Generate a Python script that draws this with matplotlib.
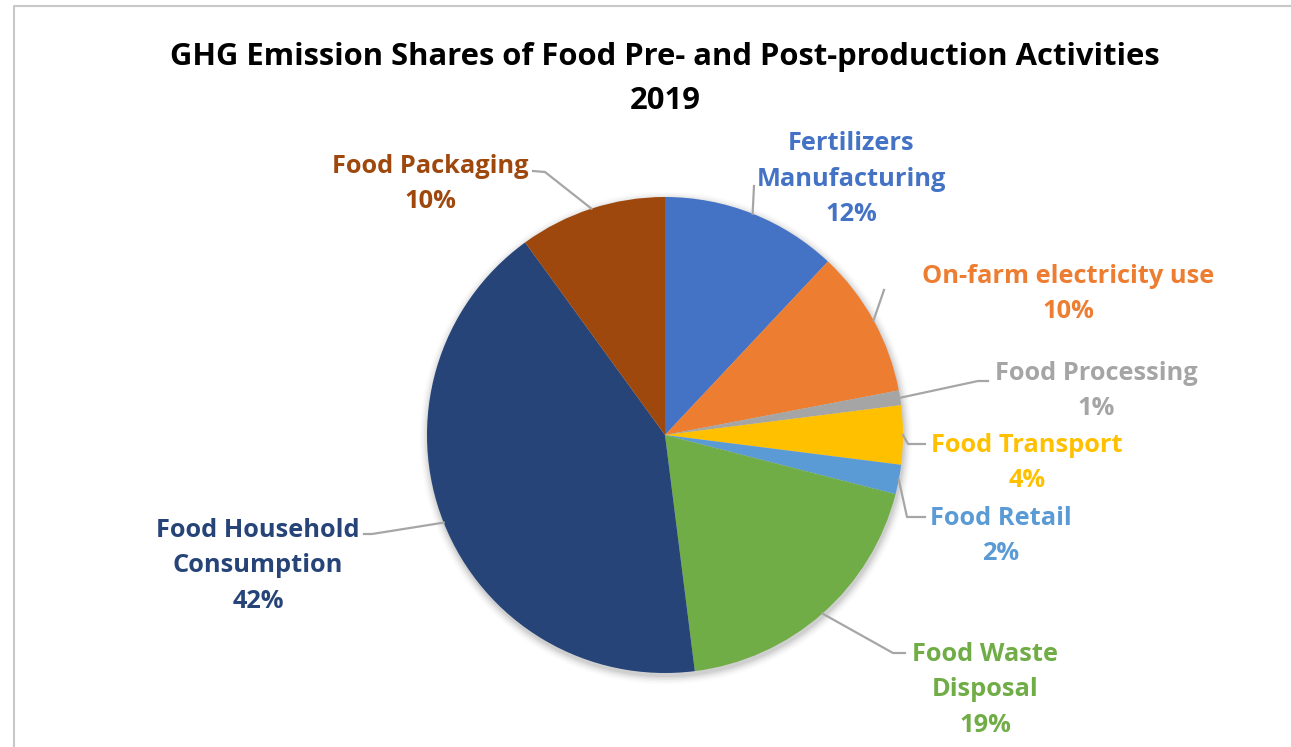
import numpy as np
import matplotlib.pyplot as plt
from matplotlib.patches import Circle

W, H = 1291, 747

title = "GHG Emission Shares of Food Pre- and Post-production Activities\n2019"
categories = ["Fertilizers\nManufacturing", "On-farm electricity use", "Food Processing",
              "Food Transport", "Food Retail", "Food Waste\nDisposal",
              "Food Household\nConsumption", "Food Packaging"]
shares = [12, 10, 1, 4, 2, 19, 42, 10]
colors = ["#4472C4", "#ED7D31", "#A5A5A5", "#FFC000", "#5B9BD5", "#70AD47",
          "#264478", "#9E480E"]

# label centre (px, from top-left) and leader path from wedge edge to text
label_pos = [(851, 179), (1068, 294), (1096, 391), (1027, 463), (1001, 536),
             (985, 690), (258, 566), (430, 184)]
leader_path = [[(754, 186)],
               [(884, 290)],
               [(978, 381), (988, 381)],
               [(908, 444), (925, 444)],
               [(907, 517), (925, 517)],
               [(893, 653), (905, 653)],
               [(372, 534), (364, 534)],
               [(545, 172), (533, 171)]]


def px(x, y):
    return x, H - y


plt.rcParams['font.family'] = ['Open Sans', 'DejaVu Sans']

fig = plt.figure(figsize=(W / 100, H / 100), dpi=100)
ax = fig.add_axes([0, 0, 1, 1])

cx, cy = px(665, 435)
r = 238

# soft shadow under the pie
for i, a in enumerate(np.linspace(0.05, 0.01, 6)):
    ax.add_patch(Circle((cx + 1, cy - 3), r + 1 + i * 1.5, color='black',
                        alpha=a, lw=0, zorder=0))

wedges, _ = ax.pie(shares, colors=colors, startangle=90, counterclock=False,
                   center=(cx, cy), radius=r, frame=True,
                   wedgeprops=dict(linewidth=0))
ax.set_xlim(0, W)
ax.set_ylim(0, H)
ax.set_aspect('equal')
ax.axis('off')

for w, name, val, col, pos, path in zip(wedges, categories, shares, colors,
                                        label_pos, leader_path):
    mid = np.deg2rad((w.theta1 + w.theta2) / 2)
    x0 = cx + r * np.cos(mid)
    y0 = cy + r * np.sin(mid)
    pts = [(x0, y0)] + [px(*p) for p in path]
    xs, ys = zip(*pts)
    ax.plot(xs, ys, color='#A6A6A6', lw=1.6, zorder=3)
    tx, ty = px(*pos)
    ax.text(tx, ty, f"{name}\n{val}%", color=col, fontsize=18.3,
            fontweight='bold', ha='center', va='center', linespacing=1.55)

ax.text(665, H - 79, title, ha='center', va='center', fontsize=22.3,
        fontweight='bold', color='black', linespacing=1.62)

# outer chart frame
ax.plot([14, 14, W + 5], [-5, H - 6, H - 6], color='#C8C8C8', lw=1.5,
        clip_on=False)

fig.savefig("out.png", dpi=100, facecolor='white')
